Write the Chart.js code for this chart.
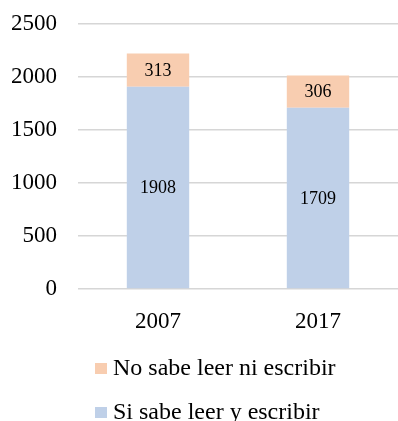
<!DOCTYPE html>
<html>
<head>
<meta charset="utf-8">
<script src="https://cdn.jsdelivr.net/npm/chart.js@4/dist/chart.umd.min.js"></script>
<style>
    body { margin: 0; background: #fff; }
    #wrap { position: relative; width: 398px; height: 421px; }
    #legend { position: absolute; left: 95px; top: 353px; font-family: 'Liberation Serif', serif; font-size: 24px; color: #000; }
    #legend div { height: 44px; line-height: 28px; white-space: nowrap; }
    #legend span.box { display: inline-block; width: 12px; height: 11px; margin-right: 6px; vertical-align: 1px; }
</style>
</head>
<body>
<div id="wrap">
    <canvas id="myChart" width="398" height="421"></canvas>
    <div id="legend"></div>
</div>
<script>
var years = ['2007', '2017'];
var siSabe = [1908, 1709];
var noSabe = [313, 306];
var yTicks = [0, 500, 1000, 1500, 2000, 2500];

var serie1 = 'Si sabe leer y escribir';
var serie2 = 'No sabe leer ni escribir';
var azul = '#bfd0e8';
var salmon = '#f8cdb0';

// valores centrados dentro de cada segmento
var etiquetas = {
    id: 'etiquetas',
    afterDatasetsDraw: function(chart) {
        var ctx = chart.ctx;
        ctx.save();
        ctx.font = '18px "Liberation Serif", serif';
        ctx.fillStyle = '#000';
        ctx.textAlign = 'center';
        ctx.textBaseline = 'middle';
        chart.data.datasets.forEach(function(ds, i) {
            chart.getDatasetMeta(i).data.forEach(function(bar, j) {
                var mid = (bar.y + bar.base) / 2 + 1;
                ctx.fillText(ds.data[j], bar.x, mid);
            });
        });
        ctx.restore();
    }
};

document.addEventListener("DOMContentLoaded", function() {
    var ctx = document.getElementById('myChart').getContext('2d');
    var myChart = new Chart(ctx, {
        type: 'bar',
        data: {
            labels: years,
            datasets: [{
                label: serie1,
                data: siSabe,
                backgroundColor: azul,
                barPercentage: 0.39,
                categoryPercentage: 1
            }, {
                label: serie2,
                data: noSabe,
                backgroundColor: salmon,
                barPercentage: 0.39,
                categoryPercentage: 1
            }]
        },
        options: {
            responsive: false,
            animation: false,
            layout: { padding: { top: 24, right: 0, bottom: 91, left: 0 } },
            plugins: {
                legend: { display: false },
                tooltip: { enabled: false }
            },
            scales: {
                x: {
                    stacked: true,
                    grid: { display: false },
                    border: { display: false },
                    ticks: {
                        color: '#000',
                        padding: 11,
                        font: { family: 'Liberation Serif', size: 23 }
                    },
                    afterFit: function(scale) { scale.height = 41; }
                },
                y: {
                    stacked: true,
                    min: 0,
                    max: 2500,
                    afterBuildTicks: function(scale) {
                        scale.ticks = yTicks.map(function(v) { return { value: v }; });
                    },
                    grid: { color: '#d6d6d6', lineWidth: 1.5, drawTicks: false },
                    border: { display: false },
                    ticks: {
                        color: '#000',
                        padding: 21,
                        font: { family: 'Liberation Serif', size: 23 },
                        callback: function(v) { return String(v); }
                    },
                    afterFit: function(scale) {
                        scale.width = 78;
                        scale.paddingTop = 0;
                        scale.paddingBottom = 0;
                    }
                }
            }
        },
        plugins: [etiquetas]
    });

    // leyenda en columna, serie superior primero
    var legend = document.getElementById('legend');
    [[serie2, salmon], [serie1, azul]].forEach(function(item) {
        var row = document.createElement('div');
        var box = document.createElement('span');
        box.className = 'box';
        box.style.background = item[1];
        row.appendChild(box);
        row.appendChild(document.createTextNode(item[0]));
        legend.appendChild(row);
    });
});
</script>
</body>
</html>
